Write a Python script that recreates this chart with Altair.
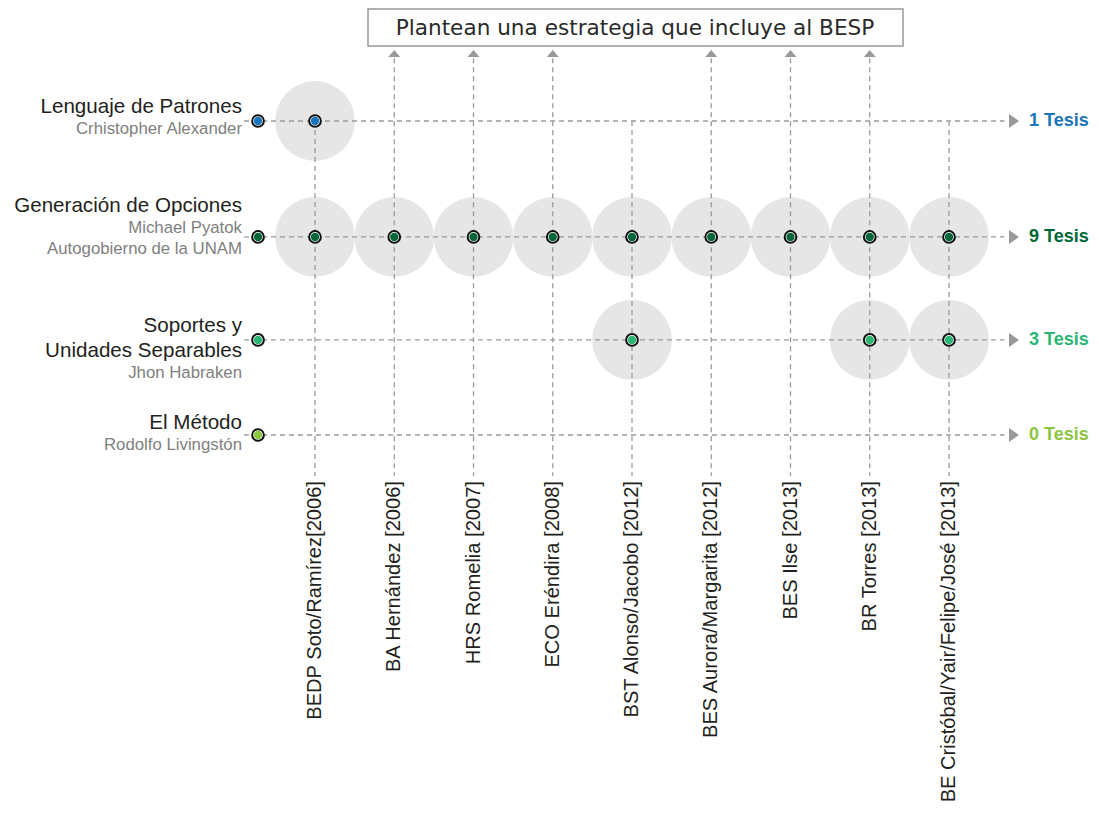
import math
import altair as alt
import pandas as pd

# ---------------- data ----------------
metodo_titulo = [
    ["Lenguaje de Patrones"],
    ["Generación de Opciones"],
    ["Soportes y", "Unidades Separables"],
    ["El Método"],
]
metodo_autor = [
    ["Crhistopher Alexander"],
    ["Michael Pyatok", "Autogobierno de la UNAM"],
    ["Jhon Habraken"],
    ["Rodolfo Livingstón"],
]
metodo_color = ["#1b75bc", "#006837", "#2bb673", "#8dc63f"]

tesis = [
    "BEDP Soto/Ramírez[2006]",
    "BA Hernández [2006]",
    "HRS Romelia [2007]",
    "ECO Eréndira [2008]",
    "BST Alonso/Jacobo [2012]",
    "BES Aurora/Margarita [2012]",
    "BES Ilse [2013]",
    "BR Torres [2013]",
    "BE Cristóbal/Yair/Felipe/José [2013]",
]
incluye_besp = [False, True, True, True, False, True, True, True, False]

uso_lenguaje = [1, 0, 0, 0, 0, 0, 0, 0, 0]
uso_generacion = [1, 1, 1, 1, 1, 1, 1, 1, 1]
uso_soportes = [0, 0, 0, 0, 1, 0, 0, 1, 1]
uso_metodo = [0, 0, 0, 0, 0, 0, 0, 0, 0]
uso = [uso_lenguaje, uso_generacion, uso_soportes, uso_metodo]

titulo = "Plantean una estrategia que incluye al BESP"

# ---------------- layout (in scale units) ----------------
W, H = 1083, 800
ROW_SLOT = [0.0, 1.108, 2.092, 3.0]
PX_Y = 104.667           # pixels per row unit
LEFT_DOT_X = -0.719
LINE_START_X = -0.896
LINE_END_X = 8.70
ARROW_R_X = 8.82
COUNT_X = 9.01
LABEL_X = -0.921
VTOP_ARROW = -0.60
UP_ARROW_Y = -0.645
VBOTTOM = 3.392
BOTTOM_LABEL_Y = 3.44
LINE_START_OFF = [-14, -31, -14, -12]

FONT = "Liberation Sans"
DASH_COLOR = "#9b9b9b"
DASH = [5, 4]

XS = alt.Scale(domain=[0, 8], range=[307, 941], nice=False, zero=False)
YS = alt.Scale(domain=[0, 3], range=[113, 427], nice=False, zero=False)


def ex(f):
    return alt.X(f, type="quantitative", scale=XS, axis=None)


def ey(f):
    return alt.Y(f, type="quantitative", scale=YS, axis=None)


# ---------------- tables ----------------
rows = pd.DataFrame({
    "y": ROW_SLOT,
    "color": metodo_color,
    "count": [f"{sum(u)} Tesis" for u in uso],
    "x0": LINE_START_X,
    "x1": LINE_END_X,
    "xa": ARROW_R_X,
    "xc": COUNT_X,
})

uses = pd.DataFrame([
    {"x": t, "y": ROW_SLOT[m], "color": metodo_color[m]}
    for m in range(len(uso)) for t in range(len(tesis)) if uso[m][t]
])

dots = pd.concat([
    uses,
    pd.DataFrame({"x": LEFT_DOT_X, "y": ROW_SLOT, "color": metodo_color}),
], ignore_index=True)

cols = pd.DataFrame({
    "x": list(range(len(tesis))),
    "name": tesis,
    "besp": incluye_besp,
    "top": [VTOP_ARROW if b else 0.0 for b in incluye_besp],
    "bottom": VBOTTOM,
    "ylab": BOTTOM_LABEL_Y,
    "yarrow": UP_ARROW_Y,
})

lines = []
for m in range(len(metodo_titulo)):
    off = LINE_START_OFF[m]
    prev = None
    for txt in metodo_titulo[m]:
        if prev == "main":
            off += 25
        lines.append({"x": LABEL_X, "y": ROW_SLOT[m] + off / PX_Y, "text": txt, "kind": "main"})
        prev = "main"
    for txt in metodo_autor[m]:
        off += 22 if prev == "main" else 21
        lines.append({"x": LABEL_X, "y": ROW_SLOT[m] + off / PX_Y, "text": txt, "kind": "sub"})
        prev = "sub"
labels = pd.DataFrame(lines)

# ---------------- layers ----------------
bg = alt.Chart(uses).mark_circle(size=math.pi * 45 ** 2, color="#e6e6e6", opacity=1).encode(
    x=ex("x"), y=ey("y"))

hlines = alt.Chart(rows).mark_rule(color=DASH_COLOR, strokeDash=DASH, strokeWidth=1.3).encode(
    x=ex("x0"), x2="x1", y=ey("y"))

vlines = alt.Chart(cols).mark_rule(color=DASH_COLOR, strokeDash=DASH, strokeWidth=1.3).encode(
    x=ex("x"), y=ey("top"), y2="bottom")

right_arrows = alt.Chart(rows).mark_point(
    shape="M-0.71,-1L0.71,0L-0.71,1Z", size=196, filled=True, color="#999999", opacity=1, strokeWidth=0
).encode(x=ex("xa"), y=ey("y"))

up_arrows = alt.Chart(cols[cols["besp"]]).mark_point(
    shape="M-1,0.58L0,-0.58L1,0.58Z", size=144, filled=True, color="#999999", opacity=1, strokeWidth=0
).encode(x=ex("x"), y=ey("yarrow"))

dot_ring = alt.Chart(dots).mark_circle(
    size=137, fill="white", stroke="#111111", strokeWidth=2, opacity=1
).encode(x=ex("x"), y=ey("y"))

dot_fill = alt.Chart(dots).mark_circle(size=69, opacity=1).encode(
    x=ex("x"), y=ey("y"), color=alt.Color("color:N", scale=None))

main_text = alt.Chart(labels[labels["kind"] == "main"]).mark_text(
    align="right", baseline="middle", font=FONT, fontSize=20.6, color="#231f20"
).encode(x=ex("x"), y=ey("y"), text="text:N")

sub_text = alt.Chart(labels[labels["kind"] == "sub"]).mark_text(
    align="right", baseline="middle", font=FONT, fontSize=16.8, color="#808080"
).encode(x=ex("x"), y=ey("y"), text="text:N")

count_text = alt.Chart(rows).mark_text(
    align="left", baseline="middle", font=FONT, fontSize=18, fontWeight="bold"
).encode(x=ex("xc"), y=ey("y"), text="count:N", color=alt.Color("color:N", scale=None))

bottom_text = alt.Chart(cols).mark_text(
    align="right", baseline="middle", angle=270, font=FONT, fontSize=20.1, color="#231f20"
).encode(x=ex("x"), y=ey("ylab"), text="name:N")

title_df = pd.DataFrame({"text": [titulo]})
title_box = alt.Chart(title_df).mark_rect(
    fill="white", stroke="#999999", strokeWidth=1.5
).encode(x=alt.value(360), x2=alt.value(895), y=alt.value(1), y2=alt.value(38))

title_text = alt.Chart(title_df).mark_text(
    align="center", baseline="middle", font="DejaVu Sans", fontSize=21.6, color="#2a2a2a"
).encode(x=alt.value(627), y=alt.value(21), text="text:N")

chart = alt.layer(
    bg, hlines, vlines, right_arrows, up_arrows, dot_ring, dot_fill,
    main_text, sub_text, count_text, bottom_text, title_box, title_text
).properties(
    width=W, height=H, autosize=alt.AutoSizeParams(type="none"), padding=0
).configure_view(stroke=None)

chart.save("out.html", embed_options={"renderer": "svg", "actions": False})
